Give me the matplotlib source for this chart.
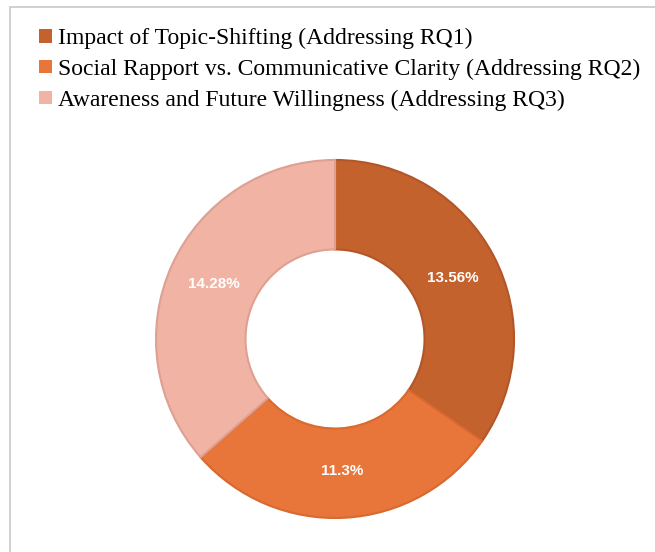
import numpy as np
import matplotlib.pyplot as plt
from matplotlib.patches import Rectangle, Patch

labels = ["Impact of Topic-Shifting (Addressing RQ1)",
          "Social Rapport vs. Communicative Clarity (Addressing RQ2)",
          "Awareness and Future Willingness (Addressing RQ3)"]
values = [13.56, 11.3, 14.28]
pct_text = ["13.56%", "11.3%", "14.28%"]
colors = ["#C4622D", "#E8753A", "#F1B3A3"]
edges = ["#B2562A", "#D8692F", "#DDA093"]

fig = plt.figure(figsize=(6.55, 5.52), dpi=100)

# frame around the chart
fig.patches.append(Rectangle((10/655, -0.05), 1.2, 1 - 7/552 + 0.05, transform=fig.transFigure,
                             facecolor="white", edgecolor="#C8C8C8", linewidth=1.2, zorder=-5))

ax = fig.add_axes([0.2382, 0.0616, 0.5466, 0.6486])
wedges, _ = ax.pie(values, colors=colors, startangle=90, counterclock=False,
                   radius=1.0, wedgeprops=dict(width=0.5, linewidth=1.5))
for w, e in zip(wedges, edges):
    w.set_edgecolor(e)
ax.set_xlim(-1, 1)
ax.set_ylim(-1, 1)
ax.axis("off")

tot = sum(values)
start = 90.0
for v, t in zip(values, pct_text):
    ang = np.deg2rad(start - v / tot * 360 / 2)
    ax.text(0.74 * np.cos(ang), 0.74 * np.sin(ang), t, ha="center", va="center",
            color="white", fontsize=11, fontweight="bold", family="Liberation Sans")
    start -= v / tot * 360

handles = [Patch(facecolor=c, edgecolor="none") for c in colors]
fig.legend(handles, labels, loc="upper left", bbox_to_anchor=(0.045, 0.966), frameon=False,
           prop=dict(family="Liberation Serif", size=17), handlelength=0.55, handleheight=0.5,
           handletextpad=0.25, labelspacing=0.40, borderaxespad=0)

fig.savefig("out.png", dpi=100)
